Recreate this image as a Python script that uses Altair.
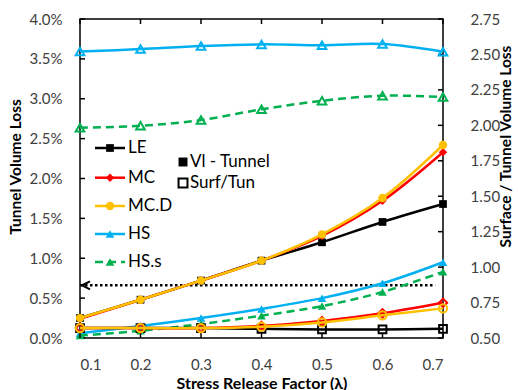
import altair as alt
import pandas as pd

# Stress release factor values
lam = [0.1, 0.2, 0.3, 0.4, 0.5, 0.6, 0.7]

series = ["LE", "MC", "MC.D", "HS", "HS.s"]

# Tunnel volume loss (%) per constitutive model
vl_tunnel = {
    "LE":   [0.25, 0.48, 0.72, 0.97, 1.20, 1.455, 1.68],
    "MC":   [0.24, 0.48, 0.72, 0.97, 1.28, 1.72, 2.33],
    "MC.D": [0.25, 0.48, 0.72, 0.97, 1.30, 1.755, 2.42],
    "HS":   [0.06, 0.15, 0.25, 0.365, 0.50, 0.686, 0.95],
    "HS.s": [0.03, 0.09, 0.176, 0.28, 0.40, 0.577, 0.83],
}

# Surface / tunnel volume loss ratio
surf_tun = {
    "LE":   [0.57, 0.57, 0.57, 0.565, 0.56, 0.56, 0.565],
    "MC":   [0.57, 0.57, 0.57, 0.585, 0.62, 0.674, 0.748],
    "MC.D": [0.57, 0.57, 0.57, 0.58, 0.61, 0.66, 0.709],
    "HS":   [2.52, 2.538, 2.559, 2.571, 2.564, 2.573, 2.519],
    "HS.s": [1.983, 1.997, 2.037, 2.113, 2.173, 2.209, 2.20],
}

colors = {"LE": "#000000", "MC": "#FF0000", "MC.D": "#FFC000",
          "HS": "#00B0F0", "HS.s": "#00B050"}
shapes = {"LE": "square", "MC": "diamond", "MC.D": "circle",
          "HS": "triangle-up", "HS.s": "triangle-up"}
sizes = {"LE": 60, "MC": 70, "MC.D": 70, "HS": 75, "HS.s": 75}
dashed = {"HS.s"}

left_ticks = [0.0, 0.5, 1.0, 1.5, 2.0, 2.5, 3.0, 3.5, 4.0]
right_ticks = [0.5, 0.75, 1.0, 1.25, 1.5, 1.75, 2.0, 2.25, 2.5, 2.75]

# Reference level marked with the dotted arrow
arrow_level = 0.66
arrow_span = [0.1, 0.687]

W, H = 363, 319
FONT = "Lato"
LABEL_COLOR = "#404040"

x_enc = alt.X(
    "lam:Q",
    scale=alt.Scale(domain=[0.1, 0.7], nice=False, zero=False),
    axis=alt.Axis(values=lam, format=".1f", ticks=False, tickSize=0, domain=False,
                  grid=False, labelPadding=19, labelFontSize=15, labelFont=FONT,
                  labelColor=LABEL_COLOR, titleFont=FONT, titleFontSize=16,
                  titleFontWeight="bold", titleColor="#000000",
                  titleX=181.5, titleY=45, titleAlign="center", titleBaseline="middle"),
    title="Stress Release Factor (λ)",
)

left_axis = alt.Axis(orient="left", values=left_ticks, ticks=False, tickSize=0,
                     domain=False, grid=False,
                     labelExpr="format(datum.value, '.1f') + '%'",
                     labelPadding=18, labelFontSize=15, labelFont=FONT,
                     labelColor=LABEL_COLOR, titleFont=FONT, titleFontSize=15.5,
                     titleFontWeight="bold", titleColor="#000000",
                     titleX=-65, titleY=147.5, titleAngle=270,
                     titleAlign="center", titleBaseline="middle")
right_axis = alt.Axis(orient="right", values=right_ticks, ticks=False, tickSize=0,
                      domain=False, grid=False, format=".2f",
                      labelPadding=27, labelFontSize=15, labelFont=FONT,
                      labelColor=LABEL_COLOR, titleFont=FONT, titleFontSize=15.5,
                      titleFontWeight="bold", titleColor="#000000",
                      titleX=62, titleY=127, titleAngle=270,
                      titleAlign="center", titleBaseline="middle")

y_left = alt.Y("v:Q", scale=alt.Scale(domain=[0, 4], nice=False, zero=False),
               axis=left_axis, title="Tunnel Volume Loss")
y_right = alt.Y("v:Q", scale=alt.Scale(domain=[0.5, 2.75], nice=False, zero=False),
                axis=right_axis, title="Surface  / Tunnel Volume Loss")


def series_layers(values, y_enc, filled):
    layers = []
    for s in series:
        df = pd.DataFrame({"lam": lam, "v": values[s]})
        base = alt.Chart(df)
        line_kw = dict(color=colors[s], strokeWidth=2.5, interpolate="catmull-rom")
        if s in dashed:
            line_kw["strokeDash"] = [8, 5]
        layers.append(base.mark_line(**line_kw).encode(x=x_enc, y=y_enc))
        if filled:
            pt = base.mark_point(shape=shapes[s], size=sizes[s], filled=True,
                                 color=colors[s], opacity=1)
        else:
            pt = base.mark_point(shape=shapes[s], size=sizes[s], filled=False,
                                 color=colors[s], strokeWidth=2, opacity=1)
        layers.append(pt.encode(x=x_enc, y=y_enc))
    return layers


# Inward tick marks on all four edges
xt = alt.Chart(pd.DataFrame({"lam": lam}))
bottom_ticks = xt.mark_rule(color="black", strokeWidth=1.5).encode(
    x=x_enc, y=alt.value(H), y2=alt.value(H - 5))
top_ticks = xt.mark_rule(color="black", strokeWidth=1.5).encode(
    x=x_enc, y=alt.value(0), y2=alt.value(5))
lt = alt.Chart(pd.DataFrame({"v": left_ticks})).mark_rule(
    color="black", strokeWidth=1.5).encode(y=y_left, x=alt.value(0), x2=alt.value(5))
rt = alt.Chart(pd.DataFrame({"v": right_ticks})).mark_rule(
    color="black", strokeWidth=1.5).encode(y=y_right, x=alt.value(W - 5), x2=alt.value(W))

# Dotted arrow
arrow_df = pd.DataFrame({"lam": arrow_span, "v": [arrow_level, arrow_level]})
arrow_line = alt.Chart(arrow_df).mark_line(
    color="black", strokeWidth=2.5, strokeDash=[2.5, 2.5]).encode(x=x_enc, y=y_left)
arrow_head = alt.Chart(pd.DataFrame({"lam": [arrow_span[0]], "v": [arrow_level]})).mark_point(
    shape="M1,-1L-1,0L1,1", size=64, filled=False, color="black", strokeWidth=2,
    opacity=1, xOffset=6).encode(x=x_enc, y=y_left)

# Legend for the models
legend_layers = []
legend_y = [129, 158.7, 187, 215, 243]
for s, ly in zip(series, legend_y):
    rule_kw = dict(color=colors[s], strokeWidth=2.5)
    if s in dashed:
        rule_kw["strokeDash"] = [8, 5]
    legend_layers.append(alt.Chart().mark_rule(**rule_kw).encode(
        x=alt.value(15), x2=alt.value(45), y=alt.value(ly)))
    legend_layers.append(alt.Chart().mark_point(
        shape=shapes[s], size=sizes[s], filled=True, color=colors[s], opacity=1).encode(
        x=alt.value(30), y=alt.value(ly)))
    legend_layers.append(alt.Chart().mark_text(
        align="left", baseline="middle", font=FONT, fontSize=17, color="#000000").encode(
        x=alt.value(48), y=alt.value(ly), text=alt.value(s)))

# Legend for the two quantities
kind_legend = [
    alt.Chart().mark_point(shape="square", size=80, filled=True, color="black",
                           opacity=1).encode(x=alt.value(103), y=alt.value(143)),
    alt.Chart().mark_text(align="left", baseline="middle", font=FONT, fontSize=17,
                          color="#000000").encode(
        x=alt.value(110), y=alt.value(143), text=alt.value("Vl - Tunnel")),
    alt.Chart().mark_point(shape="square", size=80, filled=False, color="black",
                           strokeWidth=2, opacity=1).encode(x=alt.value(103), y=alt.value(164)),
    alt.Chart().mark_text(align="left", baseline="middle", font=FONT, fontSize=17,
                          color="#000000").encode(
        x=alt.value(110), y=alt.value(164), text=alt.value("Surf/Tun")),
]

left_group = alt.layer(
    lt, arrow_line, arrow_head,
    *series_layers(vl_tunnel, y_left, True),
    bottom_ticks, top_ticks,
    *legend_layers, *kind_legend,
)
right_group = alt.layer(rt, *series_layers(surf_tun, y_right, False))

chart = alt.layer(left_group, right_group).resolve_scale(y="independent").properties(
    width=W, height=H,
    autosize=alt.AutoSizeParams(type="none"),
    padding={"left": 80, "top": 19, "right": 75, "bottom": 52},
    background="white",
).configure_view(stroke="black", strokeWidth=1.5)

chart.save("out.html", embed_options={"renderer": "svg", "actions": False})
